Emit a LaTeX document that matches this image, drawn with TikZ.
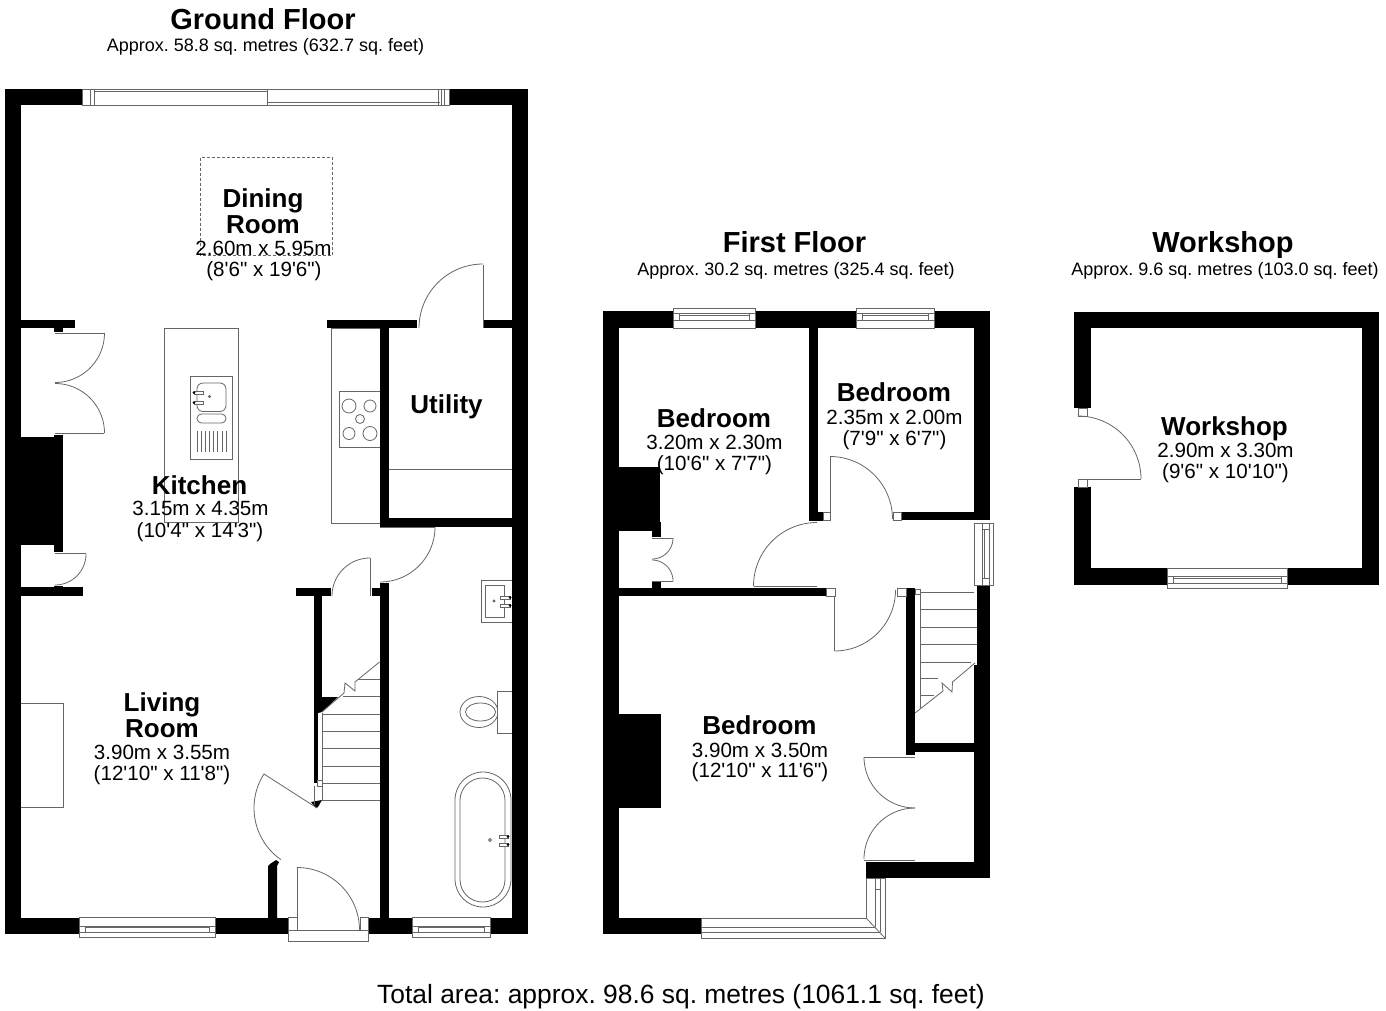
\documentclass[tikz,border=0pt]{standalone}
\usepackage{fontspec}
\newfontfamily\lib{Liberation Sans}
\frenchspacing
\tikzset{
  wall/.style={fill=black},
  thinl/.style={draw=black!60,line width=0.4pt},
  frameb/.style={draw=black!60,line width=0.4pt,fill=white},
  titletxt/.style={anchor=base,inner sep=0pt,font=\lib\frenchspacing\fontsize{14.5}{14.5}\selectfont\bfseries},
  subtxt/.style={anchor=base,inner sep=0pt,font=\lib\frenchspacing\fontsize{9}{9}\selectfont},
  roomtxt/.style={anchor=base,inner sep=0pt,font=\lib\frenchspacing\fontsize{13}{13}\selectfont\bfseries},
  dimtxt/.style={anchor=base,inner sep=0pt,font=\lib\frenchspacing\fontsize{10.3}{10.3}\selectfont},
  totaltxt/.style={anchor=base,inner sep=0pt,font=\lib\frenchspacing\fontsize{13.2}{13.2}\selectfont}
}
\newcommand{\W}[4]{\fill[wall] (#1,#2) rectangle (#3,#4);}
\newcommand{\swing}[5]{\draw[thinl] plot[domain=#4:#5,samples=36] ({#1+#3*cos(\x)},{#2+#3*sin(\x)});}
\newcommand{\bx}[4]{\draw[frameb] (#1,#2) rectangle (#3,#4);}
\newcommand{\Ln}[4]{\draw[thinl] (#1,#2) -- (#3,#4);}
% window in a bottom wall: x1, x2, top of wall
\newcommand{\winS}[3]{%
  \bx{#1}{#3}{#2}{#3+20}
  \bx{#1}{#3+8.5}{#1+6}{#3+15}
  \bx{#2-6}{#3+8.5}{#2}{#3+15}
  \Ln{#1}{#3+8.5}{#2}{#3+8.5}
  \Ln{#1}{#3+15}{#2}{#3+15}
  \Ln{#1+6}{#3+10}{#2-6}{#3+10}}
% window in a top wall: x1, x2, bottom of wall
\newcommand{\winN}[3]{%
  \bx{#1}{#3-20}{#2}{#3}
  \bx{#1}{#3-15}{#1+6}{#3-8}
  \bx{#2-6}{#3-15}{#2}{#3-8}
  \Ln{#1}{#3-8}{#2}{#3-8}
  \Ln{#1}{#3-15}{#2}{#3-15}
  \Ln{#1+6}{#3-13}{#2-6}{#3-13}}
\begin{document}
\begin{tikzpicture}[x=0.5pt,y=-0.5pt]
\useasboundingbox (0,0) rectangle (1386,1011);
\fill[white] (0,0) rectangle (1386,1011);

%%%%%%%% GROUND FLOOR
\W{5}{89}{21}{934}
\W{512}{89}{528}{934}
\W{5}{89}{82}{105}
\W{449}{89}{528}{105}
\W{5}{918}{79}{934}
\W{215}{918}{288}{934}
\W{368}{918}{412}{934}
\W{490}{918}{528}{934}
% top sliding window
\draw[thinl] (82,89) rectangle (449,105);
\Ln{90}{89}{90}{105}
\Ln{94}{89}{94}{105}
\Ln{94}{91}{267}{91}
\Ln{267}{89}{267}{105}
\Ln{267}{102.5}{440}{102.5}
\Ln{438}{89}{438}{105}
\Ln{441}{89}{441}{105}
\Ln{444}{89}{444}{105}
% walls between rooms
\W{21}{320}{75}{328}
\W{54}{328}{63}{332}
\W{327}{320}{417}{328}
\W{483}{320}{512}{328}
\W{380}{328}{388.5}{527}
\W{380}{518}{512}{527}
\W{21}{437}{54}{545}
\W{54}{435}{63}{552}
\W{21}{587}{83}{595.5}
\W{54}{585.5}{63}{587}
\W{372}{588}{380}{596}
\W{380}{583}{388.5}{918}
\W{296}{588}{331}{596}
\W{314}{596}{322}{697}
\W{314}{697}{318}{783}
\fill[wall] (314,697) -- (338,697) -- (322,712) -- (314,714) -- cycle;
\fill[wall] (311,802) -- (322,800) -- (318,807) -- (316,808) -- cycle;
\fill[wall] (268,918) -- (268,866) -- (270,864) -- (276,860) -- (279,862) -- (277,866) -- (277,918) -- cycle;
% french doors, kitchen alcove
\Ln{55}{333}{104}{333}
\swing{55}{333}{49.5}{0}{90}
\Ln{55}{433}{104}{433}
\swing{55}{433}{49.5}{270}{360}
\Ln{55}{553.5}{85.5}{553.5}
\swing{55}{554}{31}{0}{90}
% utility door
\Ln{483}{265}{483}{328}
\swing{483}{328}{64}{180}{270}
% door under utility
\Ln{380}{527}{435}{527}
\swing{380}{527}{55}{0}{90}
% understairs door
\Ln{370}{558}{370}{596}
\swing{370}{596}{38}{180}{270}
% hall door
\draw[thinl] (317,808) -- (264,774);
\swing{317}{808}{63}{125}{213}
% front door
\bx{288}{930}{368}{941}
\bx{288}{917.5}{297}{930}
\bx{360}{917.5}{368}{930}
\Ln{297}{930}{297}{867}
\swing{297}{930}{62.5}{270}{360}
% living room window, bathroom window
\winS{79}{215}{917.5}
\winS{412}{490}{917.5}
% dashed rectangle
\draw[thinl,dash pattern=on 1.5pt off 1pt] (200.5,157.5) rectangle (332,255.5);
% island and sink
\draw[thinl] (164.5,328) rectangle (238.5,522);
\draw[thinl] (190.5,376) rectangle (232,459);
\draw[thinl,rounded corners=3pt] (197,383) rectangle (226,411.5);
\draw[thinl,rounded corners=2.2pt] (197,414) rectangle (226,423);
\foreach \k in {197,201.1,205.3,209.4,213.6,217.7,221.9,226}{\draw[thinl] (\k,431) -- (\k,452);}
\bx{194}{391}{203}{394}
\bx{194}{401}{203}{404}
\fill[black] (194,392.5) circle[radius=1.5];
\fill[black] (194,402.5) circle[radius=1.5];
\draw[thinl] (209.5,396.5) circle[radius=1];
% worktop and hob
\draw[thinl] (380,328) -- (331.5,328) -- (331.5,523) -- (380,523);
\draw[thinl] (380,391.5) -- (339,391.5) -- (339,447) -- (380,447);
\draw[thinl] (349,406) circle[radius=7];
\draw[thinl] (370,406) circle[radius=6];
\draw[thinl] (360,419) circle[radius=4.5];
\draw[thinl] (349,433.5) circle[radius=6];
\draw[thinl] (370,433.5) circle[radius=7];
\Ln{388.5}{469}{512}{469}
% living room fireplace
\draw[thinl] (21,703) -- (63,703) -- (63,807) -- (21,807);
% stairs
\foreach \k in {714,731,748,766,783,800}{\draw[thinl] (322,\k) -- (380,\k);}
\Ln{343}{696}{380}{696}
\Ln{358}{679}{380}{679}
\draw[thinl] (322,713) -- (322,800);
\draw[thinl] (314,786) -- (314,805);
\bx{317}{780}{322}{786}
\draw[thinl] (322,712) -- (344,693) -- (345,683) -- (355,691) -- (355,682) -- (379.5,662);
% bathroom: basin
\draw[thinl] (512,580) -- (481,580) -- (481,622) -- (512,622);
\draw[thinl] (485,585) rectangle (504,617);
\bx{500}{596}{510}{599}
\bx{500}{604}{510}{607}
\fill[black] (510,597.5) circle[radius=1.5];
\fill[black] (510,605.5) circle[radius=1.5];
\draw[thinl] (494,601) circle[radius=1];
% toilet
\draw[thinl] (479,712) ellipse[x radius=19,y radius=15.5];
\draw[thinl] (480.5,712) ellipse[x radius=15,y radius=9];
\draw[frameb] (512,691) -- (497,691) -- (497,733) -- (512,733);
% bath
\draw[thinl,rounded corners=14pt] (455,772) rectangle (511,907);
\draw[thinl,rounded corners=11.2pt] (460,778) rectangle (505,902);
\bx{499}{835}{508}{838}
\bx{499}{843}{508}{846}
\fill[black] (508,836.5) circle[radius=1.5];
\fill[black] (508,844.5) circle[radius=1.5];
\draw[thinl] (490,840) circle[radius=1.5];

%%%%%%%% FIRST FLOOR
\W{603}{311}{619}{934}
\W{603}{311}{990}{328}
\W{974}{311}{990}{520}
\W{974}{665}{990}{878}
\W{977}{585}{990}{665}
\W{866}{862}{990}{878}
\W{603}{918}{701}{934}
\W{809}{328}{817.5}{521}
\W{817.5}{512}{823}{521}
\W{901}{512}{974}{520}
\W{619}{588}{826}{596}
\W{906}{588}{915}{755}
\W{915}{743}{974}{751.5}
\W{619}{467}{660}{522}
\W{619}{522}{652}{531}
\W{652}{522}{660.5}{537}
\W{652}{582}{660.5}{588}
\W{619}{714}{661}{808}
\winN{673}{755}{328}
\winN{856}{934}{328}
% right-hand window
\bx{974}{523}{993}{585}
\bx{982}{523}{989}{529}
\bx{982}{578}{989}{585}
\Ln{982}{523}{982}{585}
\Ln{984}{529}{984}{578}
\Ln{989}{529}{989}{578}
% bay window
\draw[frameb] (701,918) -- (866,918) -- (866,878) -- (885,878) -- (885,938) -- (701,938) -- cycle;
\Ln{701}{927}{875}{927}
\Ln{875}{878}{875}{927}
\Ln{701}{932}{880}{932}
\Ln{880}{878}{880}{932}
\Ln{866}{918}{885}{938}
\Ln{875}{889}{880}{889}
% doors
\bx{823}{512}{830}{520}
\bx{893}{512}{901}{520}
\Ln{830}{512}{830}{457}
\swing{830}{519}{62.5}{270}{360}
\Ln{754}{586}{817}{586}
\swing{817}{586}{63.5}{180}{270}
\bx{826}{588}{835}{596}
\bx{897}{588}{906}{596}
\Ln{834.5}{596}{834.5}{651}
\swing{834.5}{590}{61}{0}{90}
% wardrobe
\Ln{864}{757}{915}{757}
\swing{915}{757}{51}{90}{180}
\Ln{864}{860}{915}{860}
\swing{915}{859}{51}{180}{270}
% bedroom cupboard
\Ln{652}{538}{673}{538}
\swing{652}{538}{21}{0}{90}
\Ln{652}{581}{673}{581}
\swing{652}{581}{21}{270}{360}
% stairs
\bx{915}{589}{920}{594}
\Ln{920}{592}{974}{592}
\foreach \k in {609.5,627,644}{\draw[thinl] (920,\k) -- (977,\k);}
\Ln{920}{662}{971}{662}
\Ln{920}{678}{938}{678}
\Ln{920}{695}{934}{695}
\draw[thinl] (920,592) -- (920,708);
\draw[thinl] (915,713) -- (943,691) -- (942,683) -- (952,692) -- (952.5,682) -- (975,663);

%%%%%%%% WORKSHOP
\W{1074}{311.5}{1379}{328}
\W{1074}{311.5}{1091}{408}
\W{1074}{487}{1091}{585}
\W{1362}{311.5}{1379}{585}
\W{1074}{568}{1167}{585}
\W{1287}{568}{1379}{585}
\bx{1078}{408}{1087}{416}
\bx{1078}{479}{1087}{487}
\Ln{1078}{479}{1141}{479}
\swing{1078}{479}{63}{270}{360}
\winS{1167}{1287}{568}

%%%%%%%% TEXT
\node[titletxt] (t1) at (263,30) {Ground Floor};
\node[subtxt] (s1) at (265.5,52) {Approx. 58.8 sq. metres (632.7 sq. feet)};
\node[titletxt] (t2) at (794.5,252) {First Floor};
\node[subtxt] (s2) at (796,275) {Approx. 30.2 sq. metres (325.4 sq. feet)};
\node[titletxt] (t3) at (1223,252) {Workshop};
\node[subtxt] (s3) at (1225,275) {Approx. 9.6 sq. metres (103.0 sq. feet)};
\node[totaltxt] (tot) at (681,1003) {Total area: approx. 98.6 sq. metres (1061.1 sq. feet)};

\node[roomtxt] (r1a) at (263,207) {Dining};
\node[roomtxt] (r1b) at (263,233) {Room};
\node[dimtxt] (d1a) at (263.5,255) {2.60m x 5.95m};
\node[dimtxt] (d1b) at (264,276) {(8'6" x 19'6")};
\node[roomtxt] (r2) at (199.5,494) {Kitchen};
\node[dimtxt] (d2a) at (200.5,515) {3.15m x 4.35m};
\node[dimtxt] (d2b) at (200,537) {(10'4" x 14'3")};
\node[roomtxt] (r3) at (446.5,413) {Utility};
\node[roomtxt] (r4a) at (162,711.5) {Living};
\node[roomtxt] (r4b) at (162,737.5) {Room};
\node[dimtxt] (d4a) at (162,759) {3.90m x 3.55m};
\node[dimtxt] (d4b) at (162,780) {(12'10" x 11'8")};
\node[roomtxt] (r5) at (714,427) {Bedroom};
\node[dimtxt] (d5a) at (714.5,449) {3.20m x 2.30m};
\node[dimtxt] (d5b) at (714.5,470) {(10'6" x 7'7")};
\node[roomtxt] (r6) at (894,401.5) {Bedroom};
\node[dimtxt] (d6a) at (894.5,424) {2.35m x 2.00m};
\node[dimtxt] (d6b) at (894.5,445) {(7'9" x 6'7")};
\node[roomtxt] (r7) at (759.5,734.5) {Bedroom};
\node[dimtxt] (d7a) at (760,757) {3.90m x 3.50m};
\node[dimtxt] (d7b) at (760,777) {(12'10" x 11'6")};
\node[roomtxt] (r8) at (1224.5,435.5) {Workshop};
\node[dimtxt] (d8a) at (1225.5,457) {2.90m x 3.30m};
\node[dimtxt] (d8b) at (1225.5,478) {(9'6" x 10'10")};
\end{tikzpicture}
\end{document}
